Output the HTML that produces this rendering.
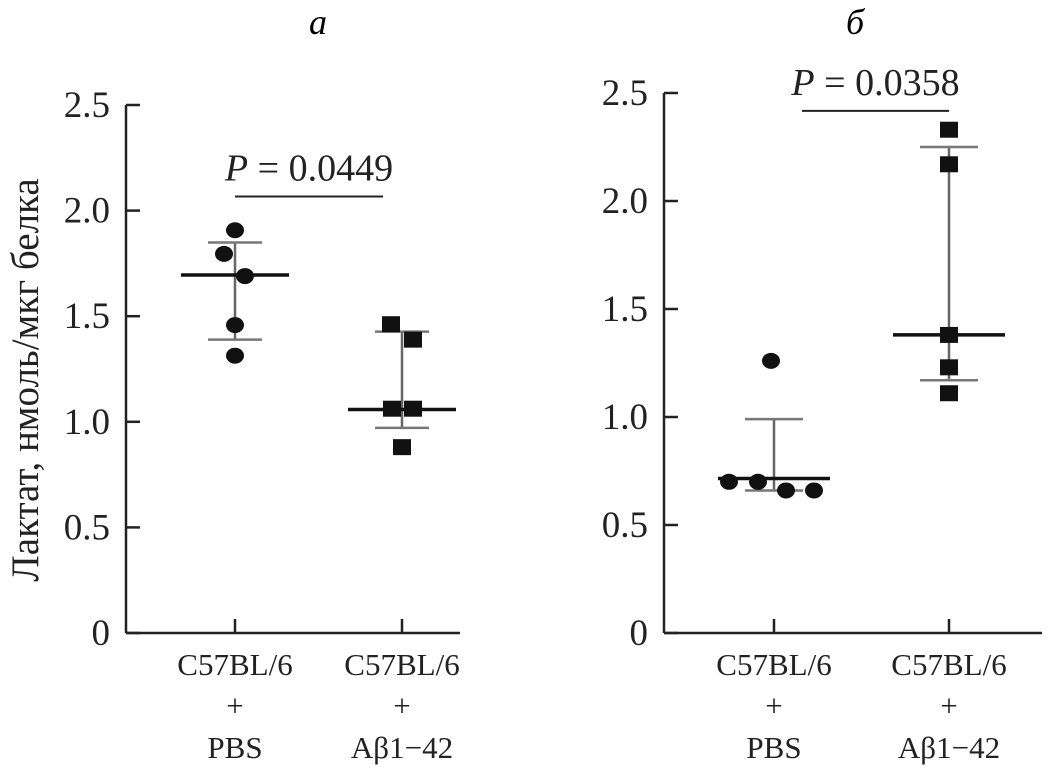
<!DOCTYPE html>
<html><head><meta charset="utf-8"><style>
html,body{margin:0;padding:0;background:#fff;}
svg{display:block;font-family:"Liberation Serif","DejaVu Serif",serif;}
</style></head><body>
<svg id="c" width="1048" height="771" viewBox="0 0 1048 771" xmlns="http://www.w3.org/2000/svg"></svg>
<script>
const yTicks=[0,0.5,1.0,1.5,2.0,2.5];
const yTickLabels=["0","0.5","1.0","1.5","2.0","2.5"];
const groupLabels=["PBS","Aβ1−42"];
const aPBS=[1.907,1.795,1.69,1.458,1.313];
const aPBSdx=[0,-11,10,0,0];
const aAb=[1.462,1.389,1.062,1.062,0.88];
const aAbdx=[-11,11,-10,11,0];
const aStats=[[1.695,1.849,1.389],[1.058,1.427,0.971]];
const bPBS=[0.70,0.70,0.66,0.66,1.26];
const bPBSdx=[-45,-16,12,40,-3];
const bAb=[2.33,2.17,1.38,1.23,1.11];
const bAbdx=[0,0,0,0,0];
const bStats=[[0.715,0.99,0.66],[1.38,2.25,1.17]];
const pValues=["0.0449","0.0358"];
const sigY=[2.067,2.417];

const svg=document.getElementById('c');
const NS="http://www.w3.org/2000/svg";
function mk(t,a,p){const e=document.createElementNS(NS,t);for(const k in a)e.setAttribute(k,a[k]);(p||svg).appendChild(e);return e;}

const panels=[
 {ax:126,xEnd:460,y0:633,y25:105,gx:[235,402],pts:[aPBS,aAb],dx:[aPBSdx,aAbdx],st:aStats,title:"а",tx:318,sig:[235,383],mw:54,cw:27},
 {ax:664,xEnd:1042,y0:633,y25:93,gx:[774,949],pts:[bPBS,bAb],dx:[bPBSdx,bAbdx],st:bStats,title:"б",tx:855,sig:[802,949],mw:56,cw:29}
];
panels.forEach((P,pi)=>{
 const g=mk('g',{});
 
 
 const y=v=>P.y0-(P.y0-P.y25)*v/2.5;
 const t=mk('text',{x:P.tx,y:34,'font-size':36,'font-style':'italic','text-anchor':'middle'},g);t.textContent=P.title;
 
 const ya=mk('line',{x1:P.ax,y1:y(2.5),x2:P.ax,y2:P.y0,stroke:'#222','stroke-width':2.5},g);
 
 const xa=mk('line',{x1:P.ax,y1:P.y0,x2:P.xEnd,y2:P.y0,stroke:'#222','stroke-width':2.5},g);
 
 yTicks.forEach((v,i)=>{
  const l=mk('line',{x1:P.ax,y1:y(v),x2:P.ax+14,y2:y(v),stroke:'#222','stroke-width':2.5},g);
  
  const tl=mk('text',{x:P.ax-16,y:y(v)+12,'font-size':37,'text-anchor':'end',fill:'#222'},g);tl.textContent=yTickLabels[i];
  
 });
 P.gx.forEach((gx,gi)=>{
  const l=mk('line',{x1:gx,y1:P.y0,x2:gx,y2:P.y0-14,stroke:'#222','stroke-width':2.5},g);
  
  [["C57BL/6",675],["+",716],[groupLabels[gi],758]].forEach(([s,yy])=>{
   const tl=mk('text',{x:gx,y:yy,'font-size':31,'text-anchor':'middle',fill:'#222'},g);tl.textContent=s;
   
  });
  const st=P.st[gi];
  const v=mk('line',{x1:gx,y1:y(st[1]),x2:gx,y2:y(st[2]),stroke:'#666','stroke-width':2.5},g);
  
  [st[1],st[2]].forEach(c=>{const cl=mk('line',{x1:gx-P.cw,y1:y(c),x2:gx+P.cw,y2:y(c),stroke:'#777','stroke-width':2.5},g);
   });
  P.pts[gi].forEach((val,k)=>{
   const cx=gx+P.dx[gi][k];let m;
   if(gi===0) m=mk('ellipse',{cx:cx,cy:y(val),rx:9,ry:8,fill:'#111'},g);
   else m=mk('rect',{x:cx-9,y:y(val)-8,width:18,height:16,fill:'#111'},g);
   
  });
  const ml=mk('line',{x1:gx-P.mw,y1:y(st[0]),x2:gx+P.mw,y2:y(st[0]),stroke:'#111','stroke-width':3.5},g);
  
 });
 const sl=mk('line',{x1:P.sig[0],y1:y(sigY[pi]),x2:P.sig[1],y2:y(sigY[pi]),stroke:'#222','stroke-width':2},g);
 
 const pt=mk('text',{x:(P.sig[0]+P.sig[1])/2,y:y(sigY[pi])-16,'font-size':38,'text-anchor':'middle',fill:'#222'},g);
 pt.innerHTML='<tspan font-style="italic">P</tspan> = '+pValues[pi];
 
});
const yt=mk('text',{x:0,y:0,'font-size':39,'text-anchor':'middle',fill:'#222',transform:'translate(38,380) rotate(-90)'});
yt.textContent='Лактат, нмоль/мкг белка';

</script>
</body></html>
